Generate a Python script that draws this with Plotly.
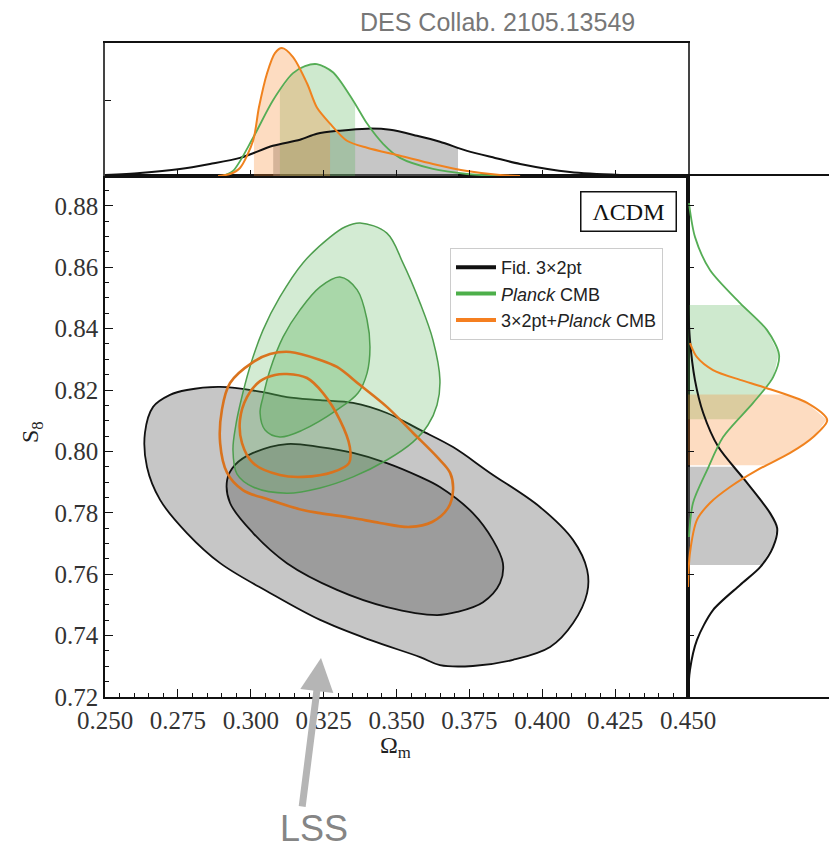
import numpy as np
import plotly.graph_objects as go

W, H = 829, 868

# ---------------- data ----------------
# 2D contours, Omega_m vs S8
fid_outer_om = [0.2637,0.2665,0.2723,0.2781,0.2895,0.3042,0.3124,0.3238,0.3351,0.3467,0.3581,0.3694,0.3821,0.3992,0.4106,0.4154,0.4154,0.4106,0.4027,0.3900,0.3762,0.3649,0.3581,0.3409,0.3238,0.3066,0.2895,0.2781,0.2689,0.2644]
fid_outer_s8 = [0.8060,0.8145,0.8184,0.8200,0.8210,0.8193,0.8177,0.8167,0.8158,0.8125,0.8070,0.8014,0.7930,0.7819,0.7711,0.7614,0.7539,0.7441,0.7363,0.7321,0.7301,0.7304,0.7330,0.7386,0.7451,0.7539,0.7636,0.7734,0.7842,0.7949]
fid_inner_om = [0.2919,0.2946,0.3008,0.3124,0.3238,0.3351,0.3467,0.3581,0.3649,0.3762,0.3831,0.3865,0.3855,0.3797,0.3708,0.3639,0.3467,0.3296,0.3124,0.3008,0.2929]
fid_inner_s8 = [0.7907,0.7956,0.7995,0.8024,0.8014,0.7995,0.7962,0.7917,0.7884,0.7799,0.7711,0.7636,0.7571,0.7509,0.7477,0.7467,0.7493,0.7549,0.7636,0.7734,0.7832]

planck_outer_om = [0.3375,0.3467,0.3522,0.3581,0.3625,0.3649,0.3639,0.3608,0.3557,0.3467,0.3351,0.3238,0.3124,0.3008,0.2953,0.2939,0.2949,0.2963,0.2997,0.3042,0.3100,0.3179,0.3272,0.3323]
planck_outer_s8 = [0.8744,0.8711,0.8614,0.8483,0.8363,0.8233,0.8151,0.8086,0.8031,0.7972,0.7917,0.7881,0.7864,0.7884,0.7926,0.8005,0.8086,0.8151,0.8275,0.8395,0.8503,0.8614,0.8698,0.8731]
planck_inner_om = [0.3306,0.3365,0.3399,0.3409,0.3399,0.3368,0.3296,0.3179,0.3100,0.3049,0.3032,0.3042,0.3066,0.3111,0.3169,0.3238]
planck_inner_s8 = [0.8568,0.8526,0.8428,0.8340,0.8255,0.8190,0.8135,0.8070,0.8047,0.8070,0.8125,0.8177,0.8265,0.8373,0.8461,0.8536]

comb_outer_om = [0.3135,0.3238,0.3296,0.3375,0.3467,0.3557,0.3639,0.3684,0.3694,0.3677,0.3622,0.3546,0.3443,0.3351,0.3238,0.3179,0.3066,0.2973,0.2919,0.2895,0.2901,0.2929,0.3008,0.3066]
comb_outer_s8 = [0.8324,0.8298,0.8275,0.8216,0.8145,0.8060,0.7982,0.7930,0.7874,0.7816,0.7770,0.7754,0.7767,0.7783,0.7799,0.7809,0.7842,0.7874,0.7930,0.8027,0.8135,0.8223,0.8291,0.8317]
comb_inner_om = [0.3124,0.3193,0.3248,0.3306,0.3340,0.3337,0.3282,0.3179,0.3100,0.3008,0.2970,0.2963,0.2987,0.3032,0.3083]
comb_inner_s8 = [0.8252,0.8239,0.8190,0.8102,0.8014,0.7962,0.7933,0.7917,0.7923,0.7962,0.8027,0.8102,0.8177,0.8229,0.8249]

# 1D marginal of Omega_m (normalised)
fid_om_x = [0.25,0.2620,0.2757,0.2860,0.2963,0.3076,0.3169,0.3227,0.3306,0.3399,0.3478,0.3570,0.3649,0.3742,0.3838,0.3924,0.4095,0.4267,0.45]
fid_om_p = [0.008,0.023,0.053,0.091,0.136,0.227,0.273,0.318,0.341,0.356,0.348,0.303,0.258,0.189,0.136,0.091,0.030,0.008,0.0]
planck_om_x = [0.2901,0.2939,0.3008,0.3076,0.3145,0.3186,0.3227,0.3282,0.3351,0.3399,0.3454,0.3512,0.3625,0.3742,0.3855]
planck_om_p = [0.0,0.038,0.288,0.568,0.773,0.826,0.841,0.780,0.568,0.394,0.242,0.136,0.053,0.015,0.0]
comb_om_x = [0.2888,0.2929,0.2963,0.3008,0.3028,0.3056,0.3083,0.3107,0.3145,0.3193,0.3227,0.3272,0.3330,0.3399,0.3512,0.3625,0.3742,0.3855,0.3924]
comb_om_p = [0.0,0.015,0.060,0.265,0.515,0.773,0.924,0.962,0.894,0.697,0.515,0.394,0.265,0.212,0.152,0.091,0.038,0.008,0.0]

# 1D marginal of S8 (normalised)
fid_s8_y = [0.72,0.7288,0.7386,0.7483,0.7565,0.7623,0.7689,0.7750,0.7799,0.7907,0.8014,0.8125,0.8233,0.8363,0.8493]
fid_s8_p = [0.0,0.014,0.065,0.181,0.377,0.522,0.616,0.645,0.594,0.410,0.220,0.110,0.050,0.014,0.0]
planck_s8_y = [0.7721,0.7832,0.7939,0.8047,0.8158,0.8242,0.8314,0.8395,0.8483,0.8591,0.8698,0.8809]
planck_s8_p = [0.007,0.036,0.138,0.254,0.471,0.616,0.659,0.572,0.377,0.159,0.051,0.007]
comb_s8_y = [0.7558,0.7669,0.7777,0.7832,0.7884,0.7939,0.7995,0.8047,0.8102,0.8158,0.8210,0.8233,0.8265,0.8307,0.8353]
comb_s8_p = [0.0,0.014,0.065,0.159,0.304,0.500,0.739,0.906,1.007,0.862,0.543,0.377,0.181,0.065,0.014]

# 68% intervals shown as shaded bands
fid_om_band, planck_om_band, comb_om_band = (0.3077, 0.3711), (0.3100, 0.3358), (0.3011, 0.3272)
fid_s8_band, planck_s8_band, comb_s8_band = (0.7630, 0.7950), (0.8105, 0.8477), (0.7955, 0.8185)

x_ticks = [0.250, 0.275, 0.300, 0.325, 0.350, 0.375, 0.400, 0.425, 0.450]
y_ticks = [0.72, 0.74, 0.76, 0.78, 0.80, 0.82, 0.84, 0.86, 0.88]
legend_names = ["Fid. 3×2pt", "<i>Planck</i> CMB", "3×2pt+<i>Planck</i> CMB"]

# ---------------- styling ----------------
BLACK = "#111111"
GREEN_LINE = "#4e9e4e"
GREEN_M = "#55ad55"
ORANGE_LINE = "#d9731e"
ORANGE_M = "#f0821e"
SERIF = "Liberation Serif"
SANS = "Liberation Sans"

def px2x(p):
    return p / W

def py2y(p):
    return 1 - p / H

X_DOM = [px2x(105), px2x(688)]
Y_DOM_MAIN = [py2y(697), py2y(176)]
Y_DOM_TOP = [py2y(176), py2y(43)]
X_DOM_RIGHT = [px2x(688), 1.0]
Y_RANGE = [0.72, 0.72 + (697 - 176) / 3070]

fig = go.Figure()

def closed(a):
    return list(a) + [a[0]]

def contour(xs, ys, fill, line_color, lw):
    fig.add_trace(go.Scatter(
        x=closed(xs), y=closed(ys), mode="lines", fill="toself",
        fillcolor=fill, line=dict(color=line_color, width=lw, shape="spline", smoothing=1.0),
        showlegend=False, hoverinfo="skip", xaxis="x", yaxis="y"))

# Fiducial 3x2pt (grey)
contour(fid_outer_om, fid_outer_s8, "rgba(128,128,128,0.45)", BLACK, 1.8)
contour(fid_inner_om, fid_inner_s8, "rgba(60,60,60,0.30)", BLACK, 1.8)
# Planck (green)
contour(planck_outer_om, planck_outer_s8, "rgba(80,175,80,0.25)", GREEN_LINE, 1.5)
contour(planck_inner_om, planck_inner_s8, "rgba(80,175,80,0.32)", GREEN_LINE, 1.5)
# Combined (orange lines only)
contour(comb_outer_om, comb_outer_s8, "rgba(0,0,0,0)", ORANGE_LINE, 2.6)
contour(comb_inner_om, comb_inner_s8, "rgba(0,0,0,0)", ORANGE_LINE, 2.6)

# ----- top marginal -----
def band_top(xs, ps, band, fill):
    lo, hi = band
    g = np.linspace(lo, hi, 80)
    d = np.interp(g, xs, ps)
    bx = np.concatenate([[lo], g, [hi]])
    by = np.concatenate([[0], d, [0]])
    fig.add_trace(go.Scatter(x=bx, y=by, mode="lines", fill="toself", fillcolor=fill,
                             line=dict(width=0), showlegend=False, hoverinfo="skip",
                             xaxis="x2", yaxis="y2"))

band_top(fid_om_x, fid_om_p, fid_om_band, "rgba(128,128,128,0.45)")
band_top(planck_om_x, planck_om_p, planck_om_band, "rgba(80,175,80,0.28)")
band_top(comb_om_x, comb_om_p, comb_om_band, "rgba(250,140,50,0.30)")
for xs, ps, c, w in [(fid_om_x, fid_om_p, BLACK, 2.0), (planck_om_x, planck_om_p, GREEN_M, 1.8),
                     (comb_om_x, comb_om_p, ORANGE_M, 2.0)]:
    fig.add_trace(go.Scatter(x=xs, y=ps, mode="lines",
                             line=dict(color=c, width=w, shape="spline", smoothing=0.8),
                             showlegend=False, hoverinfo="skip", xaxis="x2", yaxis="y2"))

# ----- right marginal -----
def band_right(ys, ps, band, fill):
    lo, hi = band
    g = np.linspace(lo, hi, 80)
    d = np.interp(g, ys, ps)
    bx = np.concatenate([[0], d, [0]])
    by = np.concatenate([[lo], g, [hi]])
    fig.add_trace(go.Scatter(x=bx, y=by, mode="lines", fill="toself", fillcolor=fill,
                             line=dict(width=0), showlegend=False, hoverinfo="skip",
                             xaxis="x3", yaxis="y3"))

band_right(fid_s8_y, fid_s8_p, fid_s8_band, "rgba(128,128,128,0.45)")
band_right(planck_s8_y, planck_s8_p, planck_s8_band, "rgba(80,175,80,0.28)")
band_right(comb_s8_y, comb_s8_p, comb_s8_band, "rgba(250,140,50,0.30)")
for ys, ps, c, w in [(fid_s8_y, fid_s8_p, BLACK, 2.0), (planck_s8_y, planck_s8_p, GREEN_M, 1.8),
                     (comb_s8_y, comb_s8_p, ORANGE_M, 2.0)]:
    fig.add_trace(go.Scatter(x=ps, y=ys, mode="lines",
                             line=dict(color=c, width=w, shape="spline", smoothing=0.8),
                             showlegend=False, hoverinfo="skip", xaxis="x3", yaxis="y3"))

# legend entries
for name, c in zip(legend_names, [BLACK, "#4daf4a", "#f57f20"]):
    fig.add_trace(go.Scatter(x=[None], y=[None], mode="lines", name=name,
                             line=dict(color=c, width=4), xaxis="x", yaxis="y"))

axis_common = dict(showgrid=False, zeroline=False, showline=True, linecolor=BLACK,
                   linewidth=1.5, ticks="inside", tickcolor=BLACK, tickwidth=1.3,
                   automargin=False)

fig.update_layout(
    width=W, height=H, margin=dict(l=0, r=0, t=0, b=0, pad=0, autoexpand=False),
    paper_bgcolor="white", plot_bgcolor="white",
    xaxis=dict(domain=X_DOM, anchor="y", range=[0.25, 0.45], mirror=True,
               tickmode="array", tickvals=x_ticks, ticktext=[f"{v:.3f}" for v in x_ticks],
               ticklen=8, tickfont=dict(family=SERIF, size=25, color="#333"),
               minor=dict(tickmode="linear", tick0=0.25, dtick=0.005, ticks="inside",
                          ticklen=4, tickcolor=BLACK, tickwidth=1),
               **axis_common),
    yaxis=dict(domain=Y_DOM_MAIN, anchor="x", range=Y_RANGE, mirror=True,
               tickmode="array", tickvals=y_ticks, ticktext=[f"{v:.2f}" for v in y_ticks],
               ticklen=8, tickfont=dict(family=SERIF, size=25, color="#333"),
               minor=dict(tickmode="linear", tick0=0.72, dtick=0.005, ticks="inside",
                          ticklen=4, tickcolor=BLACK, tickwidth=1),
               **axis_common),
    xaxis2=dict(domain=X_DOM, anchor="y2", range=[0.25, 0.45], mirror=True,
                tickmode="array", tickvals=x_ticks, showticklabels=False, ticklen=6,
                **axis_common),
    yaxis2=dict(domain=Y_DOM_TOP, anchor="x2", range=[0, 1.0], mirror=True,
                tickmode="array", tickvals=[0.57], showticklabels=False, ticklen=6,
                **{**axis_common, "linecolor": "#444"}),
    xaxis3=dict(domain=X_DOM_RIGHT, anchor="y3", range=[0, 1.02], mirror=True,
                showgrid=False, zeroline=False, showline=True, linecolor=BLACK, linewidth=1.5,
                ticks="", showticklabels=False, automargin=False),
    yaxis3=dict(domain=Y_DOM_MAIN, anchor="x3", range=Y_RANGE, mirror=False,
                tickmode="array", tickvals=y_ticks, showticklabels=False, ticklen=6,
                **axis_common),
    legend=dict(x=px2x(450), y=py2y(248), xanchor="left", yanchor="top",
                bgcolor="white", bordercolor="#cccccc", borderwidth=1,
                itemwidth=40,
                font=dict(family=SANS, size=18, color="#222"), tracegroupgap=0),
    showlegend=True,
)

def ann(text, px, py, **kw):
    d = dict(text=text, x=px2x(px), y=py2y(py), xref="paper", yref="paper",
             xanchor="center", yanchor="middle", showarrow=False)
    d.update(kw)
    return d

annotations = [
    ann("DES Collab. 2105.13549", 498, 22, font=dict(family=SANS, size=25, color="#777777")),
    ann("ΛCDM", 628, 212, font=dict(family=SERIF, size=24, color="#111"),
        bordercolor=BLACK, borderwidth=1.5, borderpad=4, width=86, height=30, bgcolor="white"),
    ann("Ω<sub>m</sub>", 395, 747, font=dict(family=SERIF, size=24, color="#222")),
    ann("S<sub>8</sub>", 32, 432, textangle=-90, font=dict(family=SERIF, size=24, color="#222")),
    ann("LSS", 314, 828, font=dict(family=SANS, size=36, color="#858585")),
    dict(text="", x=px2x(321), y=py2y(658), xref="paper", yref="paper", showarrow=True,
         ax=-19, ay=150, arrowhead=2, arrowsize=0.95, arrowwidth=7, arrowcolor="#b5b5b5"),
]
fig.update_layout(annotations=annotations)

fig.write_html("out.html")
